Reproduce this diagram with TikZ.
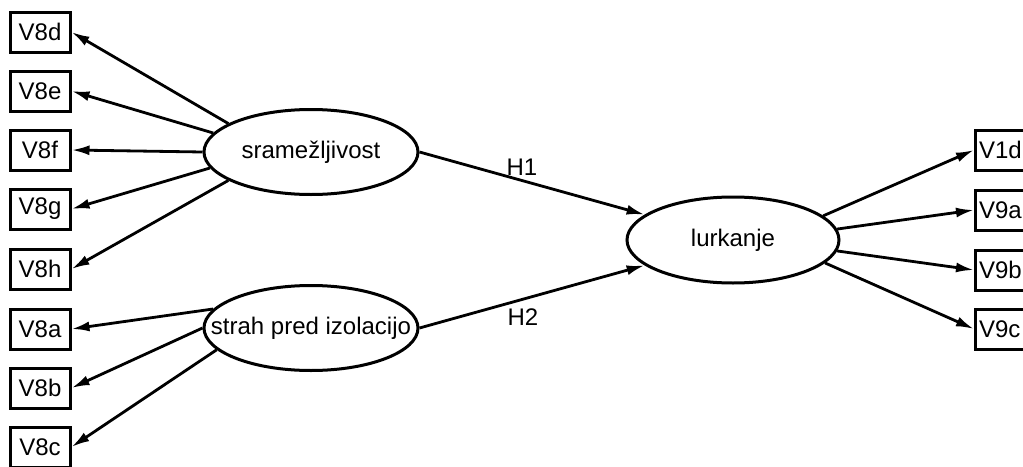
\documentclass[tikz,border=0pt]{standalone}
\usepackage{fontspec}
\setmainfont{Liberation Sans}
\usetikzlibrary{shapes.geometric,arrows.meta}
\begin{document}
\begin{tikzpicture}[x=1pt,y=-1pt,
  font=\fontsize{24}{28}\selectfont,
  obs/.style={draw,line width=3pt,minimum width=60pt,minimum height=40pt,inner sep=0pt},
  robs/.style={obs,anchor=west,text width=60pt,align=left},
  lat/.style={draw,ellipse,line width=3pt,minimum width=214pt,minimum height=85pt,inner sep=0pt},
  arr/.style={line width=2.8pt,-{Latex[length=18pt,width=10pt]}},
  lab/.style={inner sep=0pt}]
\useasboundingbox (0,0) rectangle (1023,466);
\fill[white] (0,0) rectangle (1023,466);
% left indicators
\node[obs] (V8d) at (40,32) {V8d};
\node[obs] (V8e) at (40,91) {V8e};
\node[obs] (V8f) at (40,150) {V8f};
\node[obs] (V8g) at (40,209) {V8g};
\node[obs] (V8h) at (40,269) {V8h};
\node[obs] (V8a) at (40,329) {V8a};
\node[obs] (V8b) at (40,388) {V8b};
\node[obs] (V8c) at (40,447) {V8c};
% right indicators (cut by the right edge, as in the reference)
\node[robs] (V1d) at (974,150) {\hspace*{3.5pt}V1d};
\node[robs] (V9a) at (974,210) {\hspace*{3.5pt}V9a};
\node[robs] (V9b) at (974,270) {\hspace*{3.5pt}V9b};
\node[robs] (V9c) at (974,329) {\hspace*{3.5pt}V9c};
% latent variables
\node[lat] (sram) at (311,152) {\makebox[0pt]{sramežljivost}};
\node[lat] (strah) at (311,328) {\makebox[0pt]{strah pred izolacijo}};
\node[lat,minimum width=212pt,minimum height=86pt] (lurk) at (733,240) {\makebox[0pt]{lurkanje}};
% loadings
\draw[arr] (sram.161) -- (V8d.east);
\draw[arr] (sram.169) -- (V8e.east);
\draw[arr] (sram.180) -- (V8f.east);
\draw[arr] (sram.189) -- (V8g.east);
\draw[arr] (sram.199) -- (V8h.east);
\draw[arr] (strah.169) -- (V8a.east);
\draw[arr] (strah.180) -- (V8b.east);
\draw[arr] (strah.193) -- (V8c.east);
\draw[arr] (lurk.15) -- (V1d.west);
\draw[arr] (lurk.6) -- (V9a.west);
\draw[arr] (lurk.-6) -- (V9b.west);
\draw[arr] (lurk.-14) -- (V9c.west);
% paths
\draw[arr] (sram.0) -- (lurk.164);
\draw[arr] (strah.0) -- (lurk.196);
\node[lab] (H1) at (522,167) {H1};
\node[lab] (H2) at (523,317) {H2};
\end{tikzpicture}
\end{document}
